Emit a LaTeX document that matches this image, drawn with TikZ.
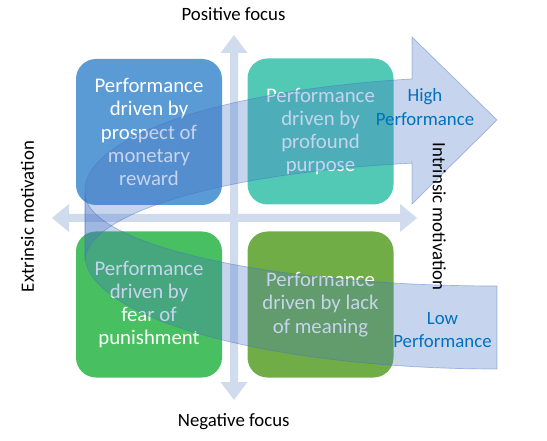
\documentclass[tikz,border=0pt]{standalone}
\usepackage{fontspec}
\setmainfont{Carlito}
\definecolor{boxA}{RGB}{91,155,213}
\definecolor{boxB}{RGB}{81,201,181}
\definecolor{boxC}{RGB}{72,191,96}
\definecolor{boxD}{RGB}{112,173,71}
\definecolor{axisc}{RGB}{208,219,238}
\definecolor{arrowc}{RGB}{68,114,196}
\definecolor{perfc}{RGB}{0,112,192}
\begin{document}
\begin{tikzpicture}[x=1pt,y=-1pt,
  quad/.style={rounded corners=20pt, minimum width=146pt, minimum height=146pt, inner sep=0pt, align=center, text=white, font=\fontsize{20.8}{23.3}\selectfont},
  axisshape/.style={fill=axisc, draw=none},
  lab/.style={font=\fontsize{18.8}{22.7}\selectfont, text=black, inner sep=0pt},
  perf/.style={font=\fontsize{18.8}{23.3}\selectfont, text=perfc, align=center, inner sep=0pt},
  band/.style={fill=arrowc, fill opacity=0.3, draw=arrowc, draw opacity=0.45, line width=0.7pt}]
\useasboundingbox (0,0) rectangle (547,441);
% axes
\fill[axisshape] (52,218) -- (69,204) -- (69,214) -- (230,214) -- (230,53) -- (220.5,53) -- (234,35) -- (247.5,53) -- (238,53) -- (238,214) -- (400,214) -- (400,204) -- (417,218) -- (400,232) -- (400,222) -- (238,222) -- (238,382) -- (247.5,382) -- (234,400) -- (220.5,382) -- (230,382) -- (230,222) -- (69,222) -- (69,232) -- cycle;
% quadrants
\node[quad, fill=boxA] (tl) at (149,132) {Performance\\driven by\\prospect of\\monetary\\reward};
\node[quad, fill=boxB] (tr) at (320.5,131.5) {Performance\\driven by\\profound\\purpose};
\node[quad, fill=boxC] (bl) at (149,304.5) {Performance\\driven by\\fear of\\punishment};
\node[quad, fill=boxD] (br) at (320.5,304.5) {Performance\\driven by lack\\of meaning};
% curved arrow: tail part
\path[band] plot[domain=180:90, samples=60] ({497+412*cos(\x)},{255+114*sin(\x)}) -- (497,286) -- plot[domain=90:180, samples=60] ({497+412*cos(\x)},{193+93*sin(\x)}) -- cycle;
% curved arrow: head part
\path[band] plot[domain=180:258.1, samples=60] ({497+412*cos(\x)},{190.5+114*sin(\x)}) -- (412,37) -- (497,120) -- (412,204) -- (412,163) -- plot[domain=258.1:180, samples=60] ({497+412*cos(\x)},{261+100*sin(\x)}) -- cycle;
% labels
\node[perf] (hi) at (425,107) {High\\Performance};
\node[perf] (lo) at (442.5,330) {Low\\Performance};
\node[lab] (pos) at (233.5,14) {Positive focus};
\node[lab] (neg) at (233.7,422) {Negative focus};
\node[lab, rotate=90] (ext) at (27.5,216.5) {Extrinsic motivation};
\node[lab, rotate=-90] (int) at (439.3,216.7) {Intrinsic motivation};
\end{tikzpicture}
\end{document}
